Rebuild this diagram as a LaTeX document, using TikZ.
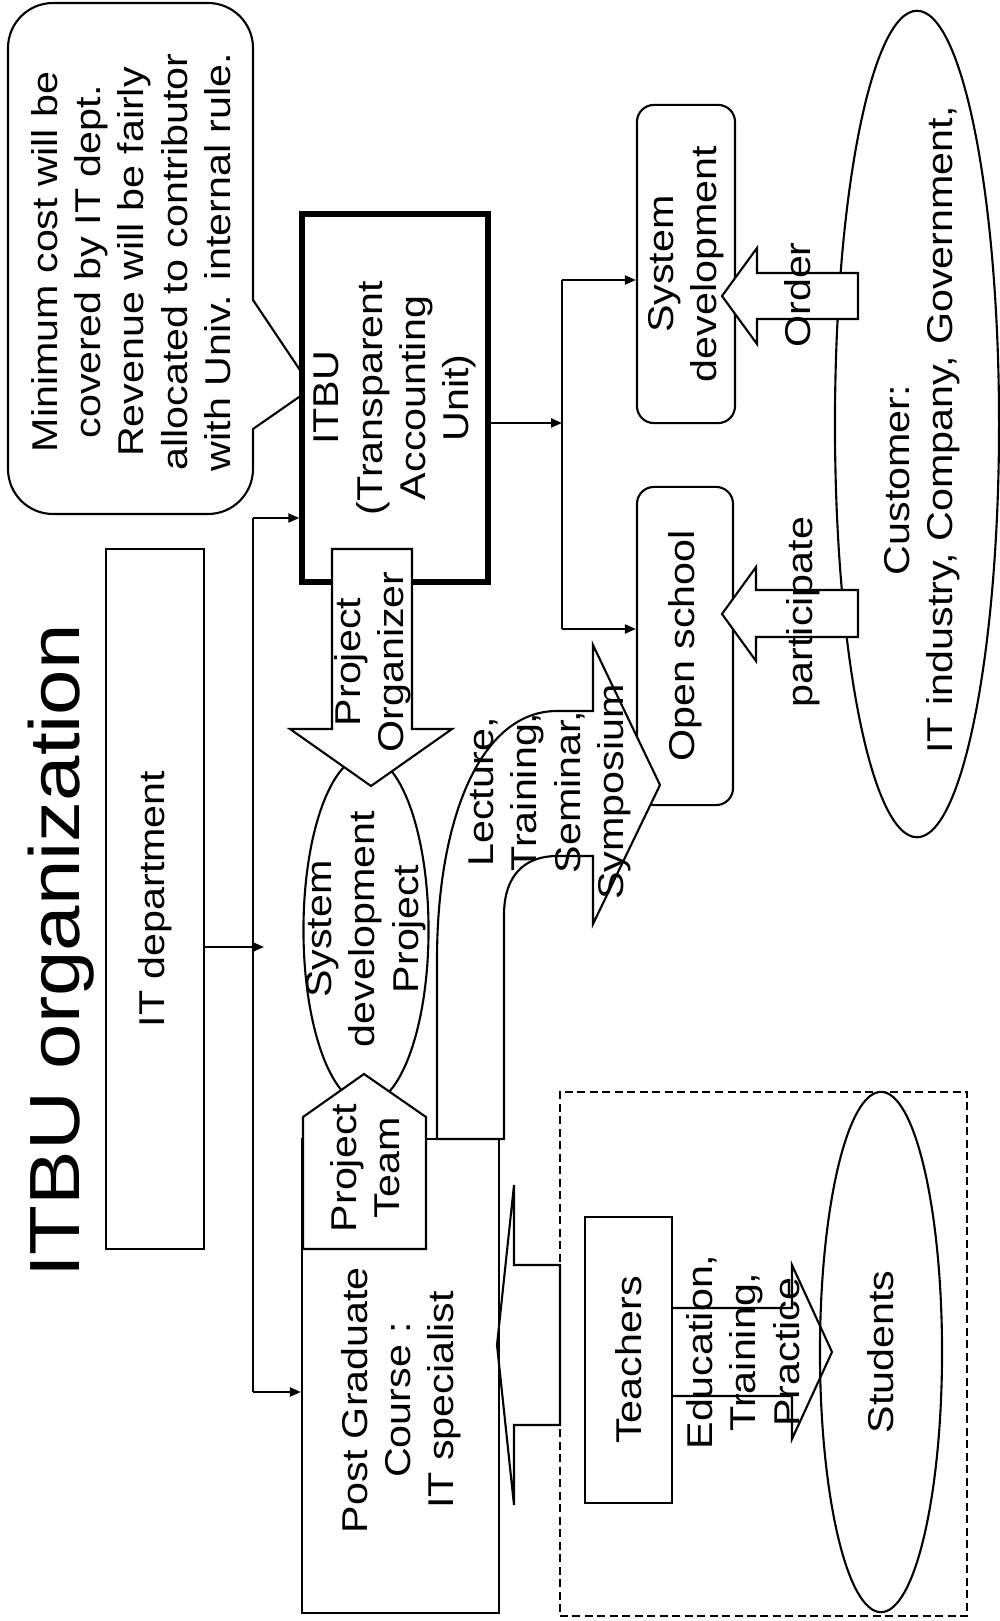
\documentclass[tikz,border=0pt]{standalone}
\usepackage{fontspec}
\setmainfont{Liberation Sans}[FakeStretch=1.15]
\usetikzlibrary{arrows.meta,shapes.geometric}

\newcommand{\bodysize}{\fontsize{10.2}{12.3}\selectfont}
\newcommand{\titlesize}{\fontsize{20.2}{24}\selectfont}

\tikzset{
  line/.style={line width=0.6pt},
  arr/.style={line, -{Triangle[length=1.1mm,width=0.9mm]}},
  lbl/.style={rotate=90, align=center, inner sep=0pt, font=\bodysize},
  box/.style={line, draw, fill=white, rotate=90, inner sep=0pt, align=center, font=\bodysize},
  rbox/.style={box, rounded corners=0.17cm},
  oval/.style={line, draw, ellipse, inner sep=0pt},
  blockarrow/.style={line, draw, fill=white, line join=miter}
}

\begin{document}
\begin{tikzpicture}[x=0.01cm, y=-0.01cm]
\useasboundingbox (0,0) rectangle (1000,1621);

% title
\node[rotate=90, anchor=base, font=\titlesize, inner sep=0pt] (title) at (80,951) {ITBU organization};

% callout
\draw[line, rounded corners=0.45cm] (130,3) -- (253,3) -- (253,250) [sharp corners] -- (253,300) -- (312,388) -- (253,429) -- (253,470) [rounded corners=0.45cm] -- (253,514) -- (8,514) -- (8,3) -- cycle;
\node[lbl] (note) at (131,262) {Minimum cost will be\\covered by IT dept.\\Revenue will be fairly\\allocated to contributor\\with Univ. internal rule.};

% boxes
\node[box, minimum width=7cm, minimum height=0.98cm] (itdept) at (155,899) {IT department};
\node[box, line width=1.5pt, minimum width=3.68cm, minimum height=1.86cm] (itbu) at (395,398) {ITBU\\(Transparent\\Accounting\\Unit)};
\node[oval, minimum width=1.25cm, minimum height=3.48cm] (sdp) at (366,930) {};
\node[box, minimum width=4.74cm, minimum height=1.97cm] (pg) at (400.5,1376) {};

% connectors
\coordinate (trunktop) at (253,518);
\coordinate (trunkbot) at (253,1392);
\coordinate (itjoin) at (264,947);
\draw[line] (trunktop) -- (trunkbot);
\draw[arr] (itdept.south |- itjoin) -- (itjoin);
\draw[arr] (trunktop) -- (trunktop -| itbu.north);
\draw[arr] (trunkbot) -- (trunkbot -| pg.north);

% split
\coordinate (split) at (562,423);
\coordinate (splittop) at (562,280);
\coordinate (splitbot) at (562,629);
\node[rbox, minimum width=3.18cm, minimum height=0.98cm] (sysdev) at (686,264) {System\\development};
\node[rbox, minimum width=3.18cm, minimum height=0.96cm] (school) at (685,646) {Open school};
\draw[arr] (split -| itbu.south) -- (split);
\draw[line] (splittop) -- (splitbot);
\draw[arr] (splittop) -- (splittop -| sysdev.north);
\draw[arr] (splitbot) -- (splitbot -| school.north);

% project organizer
\draw[blockarrow] (332,549) -- (412,549) -- (412,729) -- (452,729) -- (371,786) -- (290,729) -- (332,729) -- cycle;
\node[lbl] (orgtext) at (373,662) {Project\\Organizer};

% project team
\draw[blockarrow] (303,1249) -- (303,1117) -- (364,1074) -- (426,1117) -- (426,1249) -- cycle;
\node[lbl] (teamtext) at (365,1168) {Project\\Team};
\node[lbl] (pgtext) at (401,1400) {Post Graduate\\Course :\\IT specialist};
\node[lbl] (sdptext) at (366,929) {System\\development\\Project};

% lecture arrow
\draw[blockarrow] (437,1139) -- (437,960) .. controls (437,820) and (480,711) .. (557,711) -- (593,711) -- (593,645) -- (660,785) -- (593,924) -- (593,856) -- (557,856) .. controls (525,856) and (504,875) .. (504,915) -- (504,1139) -- cycle;
\node[lbl] (lecture) at (550,792) {Lecture,\\Training,\\Seminar,\\Symposium};

% customer
\node[oval, minimum width=1.64cm, minimum height=8.26cm] (cust) at (917,424) {};
\draw[blockarrow] (858,273) -- (757,273) -- (757,248) -- (722,296) -- (757,344) -- (757,319) -- (858,319) -- cycle;
\node[lbl] (ordertext) at (798,295) {Order};
\draw[blockarrow] (858,590) -- (756,590) -- (756,567) -- (722,614) -- (756,661) -- (756,637) -- (858,637) -- cycle;
\node[lbl] (parttext) at (803,612) {participate};
\node[lbl] (custtext) at (922,430) {Customer:\hspace*{1cm}\\IT industry, Company, Government,};

% teaching
\node[line, draw, dash pattern=on 0.08cm off 0.045cm, inner sep=0pt, minimum width=4.07cm, minimum height=5.24cm] (campus) at (763.5,1354) {};
\node[box, minimum width=2.86cm, minimum height=0.87cm] (teach) at (628.5,1360) {Teachers};
\draw[line] (672,1308) -- (792,1308) -- (792,1265) -- (832,1352) -- (792,1439) -- (792,1396) -- (672,1396);
\node[oval, minimum width=1.22cm, minimum height=5.2cm] (stud) at (881,1352) {};
\node[lbl] (edutext) at (743,1352) {Education,\\Training,\\Practice};
\node[lbl] (studtext) at (881,1352) {Students};
\draw[line] (560,1265) -- (514,1265) -- (514,1185) -- (497,1345) -- (514,1505) -- (514,1425) -- (560,1425) -- cycle;
\end{tikzpicture}
\end{document}
